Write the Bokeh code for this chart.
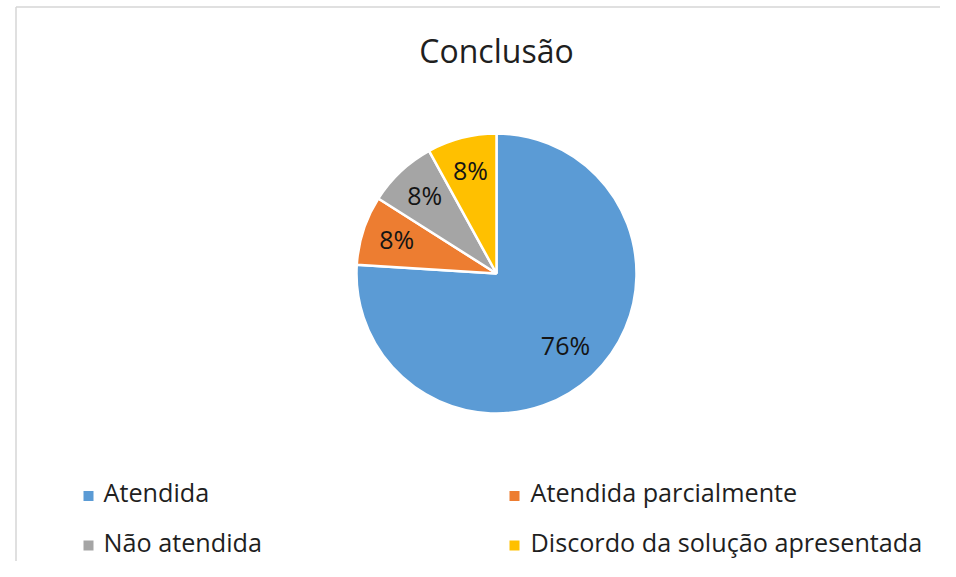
import math
from bokeh.plotting import figure
from bokeh.models import Range1d, ColumnDataSource
from bokeh.core.properties import value
from bokeh.embed import file_html
from bokeh.resources import INLINE

# ---- data ----
title = "Conclusão"
categories = ["Atendida", "Atendida parcialmente", "Não atendida",
              "Discordo da solução apresentada"]
percents = [76, 8, 8, 8]
colors = ["#5B9BD5", "#ED7D31", "#A5A5A5", "#FFC000"]

# ---- layout (pixel space: data x = screen x, data y = H - screen y) ----
W, H = 940, 561
FONT = "Open Sans"
TXT = "#1f1f1f"

p = figure(width=W, height=H, x_range=Range1d(0, W), y_range=Range1d(0, H),
           output_backend="svg", toolbar_location=None, min_border=0,
           x_axis_location=None, y_axis_location=None)
p.grid.visible = False
p.outline_line_color = None
p.background_fill_color = "white"
p.border_fill_color = "white"

# chart-area border (top and left edges visible)
p.segment(x0=[15.5, 15.5], y0=[554.5, 0], x1=[W, 15.5], y1=[554.5, 554.5],
          line_color="#d6d6d6", line_width=1.5)

# title
p.text(x=[496], y=[511.5], text=[title], text_font=value(FONT),
       text_font_size="32px", text_color=TXT, text_align="center",
       text_baseline="middle")

# pie
cx, cy, r = 496, 288, 140
total = float(sum(percents))
starts, ends, lx, ly, labels = [], [], [], [], []
cum = 0.0
for v in percents:
    a0 = math.pi / 2 - 2 * math.pi * cum / total
    cum += v
    a1 = math.pi / 2 - 2 * math.pi * cum / total
    starts.append(a0)
    ends.append(a1)
    mid = (a0 + a1) / 2
    frac = 0.75 if v < 50 else 0.72
    lx.append(cx + frac * r * math.cos(mid))
    ly.append(cy + frac * r * math.sin(mid) + 2)
    labels.append(f"{round(100 * v / total)}%")

src = ColumnDataSource(dict(start=starts, end=ends, color=colors))
p.wedge(x=cx, y=cy, radius=r, radius_units="screen", start_angle="start",
        end_angle="end", direction="clock", fill_color="color",
        line_color="white", line_width=2.5, source=src)

p.text(x=lx, y=ly, text=labels, text_font=value(FONT), text_font_size="25px",
       text_color="#141414", text_align="center", text_baseline="middle")

# legend (2 columns x 2 rows)
col_mx = [88, 514]
col_tx = [103, 530]
row_my = [65.5, 16]
row_ty = [69.5, 19.5]
mx, my, tx, ty = [], [], [], []
for i, _ in enumerate(categories):
    c, rw = i % 2, i // 2
    mx.append(col_mx[c]); my.append(row_my[rw])
    tx.append(col_tx[c]); ty.append(row_ty[rw])
p.scatter(x=mx, y=my, marker="square", size=10, fill_color=colors,
          line_color=None)
p.text(x=tx, y=ty, text=categories, text_font=value(FONT),
       text_font_size="25.2px", text_color=TXT, text_align="left",
       text_baseline="middle")

open("out.html", "w").write(file_html(p, INLINE))
